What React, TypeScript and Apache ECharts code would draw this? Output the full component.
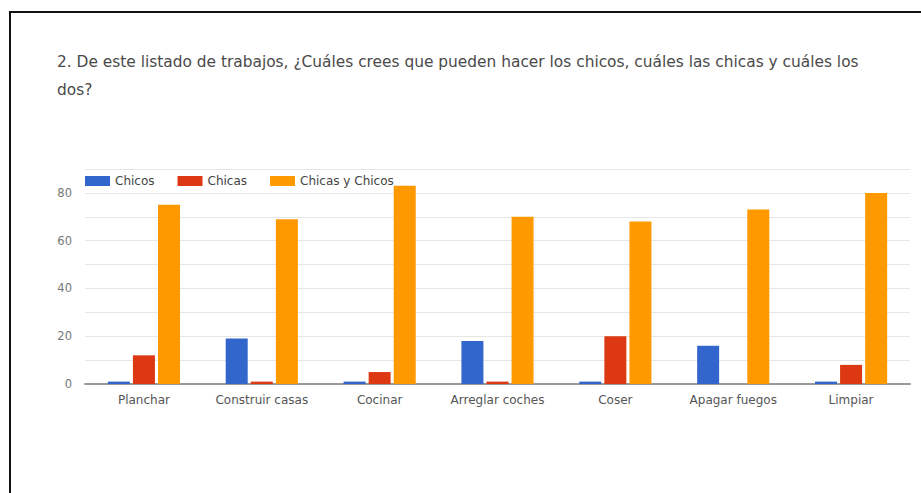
import React, { useEffect, useRef } from "react";
import * as echarts from "echarts";

const categories = ["Planchar", "Construir casas", "Cocinar", "Arreglar coches", "Coser", "Apagar fuegos", "Limpiar"];
const chicos = [1, 19, 1, 18, 1, 16, 1];
const chicas = [12, 1, 5, 1, 20, 0, 8];
const ambos = [75, 69, 83, 70, 68, 73, 80];
const seriesNames = ["Chicos", "Chicas", "Chicas y Chicos"];
const colors = ["#3366cc", "#dc3912", "#ff9900"];
const titleText = "2. De este listado de trabajos, ¿Cuáles crees que pueden hacer los chicos, cuáles las chicas y cuáles los\ndos?";

export default function App() {
  const ref = useRef<HTMLDivElement>(null);
  useEffect(() => {
    if (!ref.current) return;
    const chart = echarts.init(ref.current, undefined, { renderer: "svg" });
    const font = "'DejaVu Sans', Roboto, Arial, sans-serif";
    chart.setOption({
      animation: false,
      backgroundColor: "#ffffff",
      textStyle: { fontFamily: font },
      color: colors,
      title: {
        text: titleText,
        left: 57,
        top: 48,
        padding: 0,
        textStyle: { fontSize: 15.4, fontWeight: "normal", color: "#4a4a4a", lineHeight: 28, fontFamily: font },
      },
      legend: {
        left: 85,
        top: 175,
        padding: 0,
        itemWidth: 25,
        itemHeight: 10,
        itemGap: 23,
        icon: "rect",
        textStyle: { fontSize: 12, color: "#444", fontFamily: font },
        data: seriesNames,
      },
      grid: { left: 85, right: 11, top: 169, bottom: 109, containLabel: false },
      xAxis: {
        type: "category",
        data: categories,
        axisTick: { show: false },
        axisLine: { lineStyle: { color: "#999", width: 2 } },
        axisLabel: { fontSize: 12, color: "#555", margin: 10, interval: 0, fontFamily: font },
      },
      yAxis: {
        type: "value",
        min: 0,
        max: 90,
        interval: 10,
        axisLine: { show: false },
        axisTick: { show: false },
        axisLabel: {
          fontSize: 11.5,
          color: "#777",
          margin: 13,
          fontFamily: font,
          formatter: (v: number) => (v % 20 === 0 ? String(v) : ""),
        },
        splitLine: { lineStyle: { color: "#e6e6e6", width: 1 } },
      },
      series: [
        { name: seriesNames[0], type: "bar", data: chicos, barWidth: 22, barGap: "14%" },
        { name: seriesNames[1], type: "bar", data: chicas, barWidth: 22, barGap: "14%" },
        { name: seriesNames[2], type: "bar", data: ambos, barWidth: 22, barGap: "14%" },
      ],
      graphic: [
        {
          type: "rect",
          shape: { x: 10, y: 12, width: 930, height: 500 },
          style: { fill: "none", stroke: "#111", lineWidth: 2 },
          silent: true,
        },
      ],
    });
    return () => chart.dispose();
  }, []);
  return (
    <div
      ref={ref}
      style={{ position: "fixed", left: 0, top: 0, width: 921, height: 493 }}
    />
  );
}
